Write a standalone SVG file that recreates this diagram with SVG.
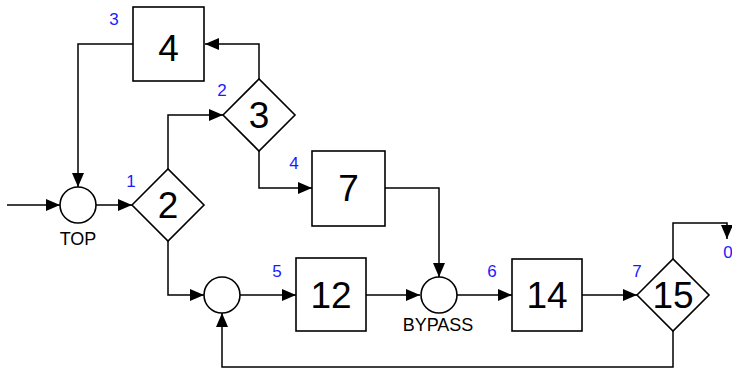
<svg xmlns="http://www.w3.org/2000/svg" width="732" height="368" viewBox="0 0 732 368">
<defs>
<marker id="arr" markerWidth="14" markerHeight="12" refX="14" refY="6" orient="auto" markerUnits="userSpaceOnUse">
<path d="M0,0 L14,6 L0,12 Z" fill="#000"/>
</marker>
<style>
.shape{fill:#fff;stroke:#000;stroke-width:1.6}
.line{fill:none;stroke:#000;stroke-width:1.5;marker-end:url(#arr)}
.big{font-family:"Liberation Sans",Arial,sans-serif;font-size:37px;text-anchor:middle;fill:#000}
.num{font-family:"Liberation Sans",Arial,sans-serif;font-size:17px;text-anchor:middle;fill:#1a1aff}
.lbl{font-family:"Liberation Sans",Arial,sans-serif;font-size:18px;text-anchor:middle;fill:#000}
</style>
</defs>
<rect width="732" height="368" fill="#fff"/>
<g id="connectors">
<path class="line" d="M7,205 H60"/>
<path class="line" d="M96,205 H132"/>
<path class="line" d="M133,44 H78 V187"/>
<path class="line" d="M168,169 V115 H223"/>
<path class="line" d="M259,79 V44 H205"/>
<path class="line" d="M259,151 V188 H312"/>
<path class="line" d="M168,241 V295 H204"/>
<path class="line" d="M240,295 H296"/>
<path class="line" d="M366,295 H420"/>
<path class="line" d="M385,188 H439 V277"/>
<path class="line" d="M457,295 H512"/>
<path class="line" d="M582,295 H637"/>
<path class="line" d="M673,259 V223 H727 V239"/>
<path class="line" d="M673,331 V367 H222 V313"/>
</g>
<g id="node-top">
<circle class="shape" cx="78" cy="205" r="18"/>
<text class="lbl" x="78" y="245">TOP</text>
</g>
<g id="node-2">
<polygon class="shape" points="132,205 168,169 204,205 168,241"/>
<text class="big" x="168" y="218">2</text>
<text class="num" x="131" y="187">1</text>
</g>
<g id="node-3">
<polygon class="shape" points="223,115 259,79 295,115 259,151"/>
<text class="big" x="259" y="128">3</text>
<text class="num" x="222" y="96">2</text>
</g>
<g id="node-4">
<rect class="shape" x="133" y="7" width="71" height="74"/>
<text class="big" x="168.5" y="61">4</text>
<text class="num" x="114" y="25">3</text>
</g>
<g id="node-7">
<rect class="shape" x="312" y="151" width="73" height="75"/>
<text class="big" x="348.5" y="201">7</text>
<text class="num" x="294" y="169">4</text>
</g>
<g id="node-sum">
<circle class="shape" cx="222" cy="295" r="18"/>
</g>
<g id="node-12">
<rect class="shape" x="296" y="258" width="70" height="73"/>
<text class="big" x="331" y="308">12</text>
<text class="num" x="277" y="277">5</text>
</g>
<g id="node-bypass">
<circle class="shape" cx="439" cy="295" r="18"/>
<text class="lbl" x="438" y="331">BYPASS</text>
</g>
<g id="node-14">
<rect class="shape" x="512" y="259" width="70" height="72"/>
<text class="big" x="547" y="308">14</text>
<text class="num" x="492" y="277">6</text>
</g>
<g id="node-15">
<polygon class="shape" points="637,295 673,259 709,295 673,331"/>
<text class="big" x="673" y="308">15</text>
<text class="num" x="637" y="277">7</text>
</g>
<g id="node-0">
<text class="num" x="728" y="258">0</text>
</g>
</svg>
